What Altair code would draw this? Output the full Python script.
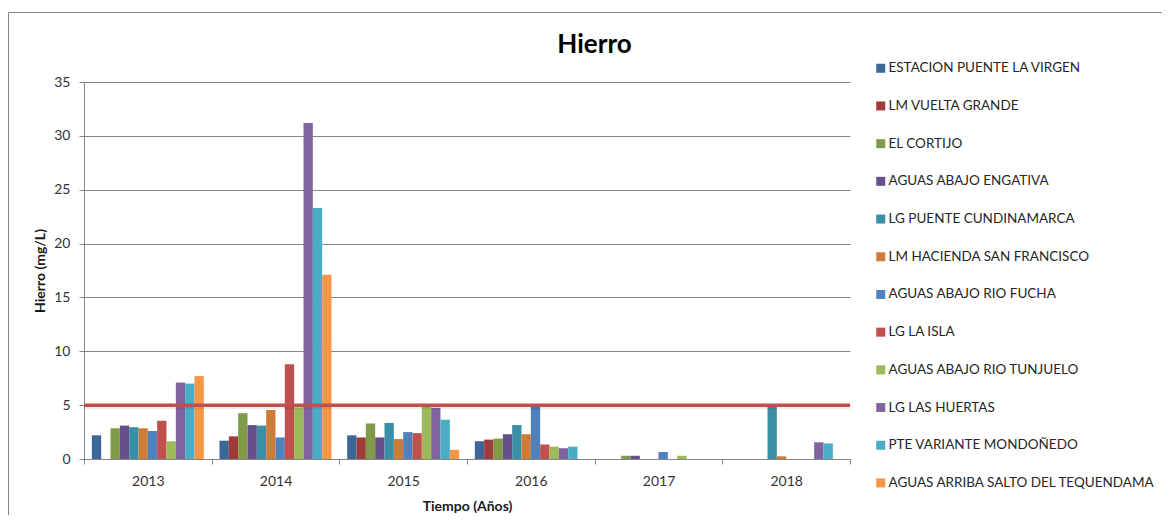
import altair as alt
import pandas as pd

years = ["2013", "2014", "2015", "2016", "2017", "2018"]

series = [
    "ESTACION PUENTE LA VIRGEN",
    "LM VUELTA GRANDE",
    "EL CORTIJO",
    "AGUAS ABAJO ENGATIVA",
    "LG PUENTE CUNDINAMARCA",
    "LM HACIENDA SAN FRANCISCO",
    "AGUAS ABAJO RIO FUCHA",
    "LG LA ISLA",
    "AGUAS ABAJO RIO TUNJUELO",
    "LG LAS HUERTAS",
    "PTE VARIANTE MONDOÑEDO",
    "AGUAS ARRIBA SALTO DEL TEQUENDAMA",
]

colors = [
    "#3E6799", "#9F3C3A", "#7F9B48", "#67508A", "#3A8EA6", "#CE7B37",
    "#4F81BD", "#C0504D", "#9BBB59", "#8064A2", "#4BACC6", "#F79646",
]

estacion = [2.2, 1.7, 2.2, 1.65, None, None]
vuelta_grande = [None, 2.1, 2.0, 1.8, None, None]
cortijo = [2.85, 4.25, 3.3, 1.9, 0.3, None]
engativa = [3.1, 3.15, 2.0, 2.3, 0.3, None]
puente_cund = [2.95, 3.1, 3.35, 3.15, None, 5.0]
hacienda = [2.85, 4.55, 1.85, 2.3, None, 0.25]
fucha = [2.6, 2.0, 2.5, 4.95, 0.65, None]
la_isla = [3.55, 8.8, 2.4, 1.35, None, None]
tunjuelo = [1.65, 4.8, 4.95, 1.15, 0.3, None]
huertas = [7.1, 31.2, 4.75, 1.0, None, 1.55]
mondonedo = [7.0, 23.3, 3.65, 1.15, None, 1.45]
tequendama = [7.7, 17.1, 0.85, None, None, None]

limit_value = 5

all_values = [estacion, vuelta_grande, cortijo, engativa, puente_cund, hacienda,
              fucha, la_isla, tunjuelo, huertas, mondonedo, tequendama]

rows = []
for name, vals in zip(series, all_values):
    for yr, v in zip(years, vals):
        if v is not None:
            rows.append({"Año": yr, "Estación": name, "Hierro": v})
df = pd.DataFrame(rows)

FONT = "Lato"
GRAY = "#868686"
W, H = 766, 377

bars = alt.Chart(df).mark_bar().encode(
    x=alt.X("Año:N", sort=years,
            scale=alt.Scale(domain=years, paddingInner=0, paddingOuter=0),
            axis=alt.Axis(title="Tiempo (Años)", labelAngle=0, tickBand="extent",
                          tickSize=5, tickColor=GRAY, domainColor=GRAY,
                          labelPadding=10, labelFontSize=14, labelFont=FONT,
                          labelColor="#333333",
                          titleFont=FONT, titleFontSize=14, titleFontWeight="bold",
                          titleColor="#1a1a1a", titleX=W / 2, titleY=47,
                          titleBaseline="middle", titleAlign="center")),
    xOffset=alt.XOffset("Estación:N",
                        scale=alt.Scale(domain=series, paddingInner=0, paddingOuter=0.84)),
    y=alt.Y("Hierro:Q",
            scale=alt.Scale(domain=[0, 35], nice=False),
            axis=alt.Axis(title="Hierro (mg/L)", values=[0, 5, 10, 15, 20, 25, 30, 35],
                          tickSize=5, tickColor=GRAY, domainColor=GRAY,
                          gridColor=GRAY, gridWidth=1,
                          labelPadding=9, labelFontSize=14, labelFont=FONT,
                          labelColor="#333333",
                          titleFont=FONT, titleFontSize=14, titleFontWeight="bold",
                          titleColor="#1a1a1a", titleX=-44, titleY=H / 2,
                          titleAngle=-90, titleBaseline="middle", titleAlign="center")),
    color=alt.Color("Estación:N",
                    scale=alt.Scale(domain=series, range=colors),
                    legend=alt.Legend(title=None, orient="none", legendX=790, legendY=-20.5,
                                      symbolType="square", symbolSize=81,
                                      symbolStrokeWidth=0, labelFont=FONT,
                                      labelFontSize=13.5, labelColor="#262626",
                                      labelOffset=1, rowPadding=22.7, padding=0,
                                      labelLimit=400)),
)

limit_df = pd.DataFrame({"v": [limit_value]})
shadow = alt.Chart(limit_df).mark_rule(color="#000000", opacity=0.07, strokeWidth=3,
                                       yOffset=2.5).encode(y="v:Q")
limit_line = alt.Chart(limit_df).mark_rule(color="#C0504D", strokeWidth=3.5).encode(y="v:Q")

title_df = pd.DataFrame({"t": ["Hierro"]})
title = alt.Chart(title_df).mark_text(font=FONT, fontSize=26, fontWeight="bold",
                                      baseline="alphabetic", align="center",
                                      color="#000000").encode(
    text="t:N", x=alt.value(510.5), y=alt.value(-29))

frame = alt.Chart(title_df).mark_rect(fillOpacity=0, stroke=GRAY, strokeWidth=1).encode(
    x=alt.value(-75.5), y=alt.value(-69.5), x2=alt.value(1300), y2=alt.value(700))

chart = alt.layer(frame, bars, shadow, limit_line, title).properties(
    width=W, height=H,
    autosize=alt.AutoSizeParams(type="none"),
    padding={"left": 76, "top": 74, "right": 312, "bottom": 56},
    background="white",
).configure_view(stroke=None)

chart.save("out.html", embed_options={"renderer": "svg", "actions": False})
